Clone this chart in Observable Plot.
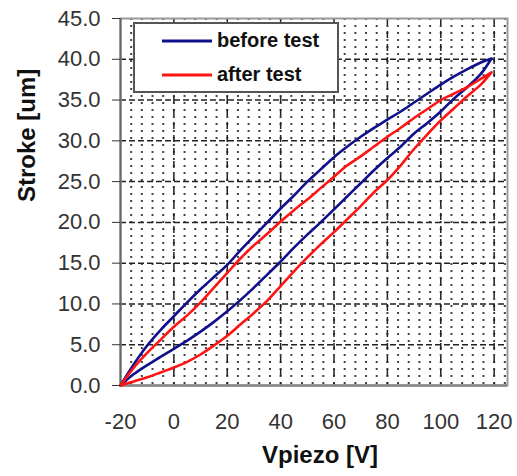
<!DOCTYPE html>
<html>
<head>
<meta charset="utf-8">
<script src="https://cdn.jsdelivr.net/npm/d3@7"></script>
<script src="https://cdn.jsdelivr.net/npm/@observablehq/plot@0.6"></script>
<style>
  html, body { margin: 0; padding: 0; background: #fff; }
  #wrap { position: relative; width: 517px; height: 476px; }
  #legend { position: absolute; left: 133px; top: 22px; }
</style>
</head>
<body>
<div id="wrap"></div>
<script>
// ---- data ----
const volts = [-20,-15,-10,-5,0,5,10,15,20,25,30,35,40,45,50,55,60,65,70,75,80,85,90,95,100,105,110,115,119];
// "before test" loop: rising branch (lower) and falling branch (upper)
const beforeRise = [0,1.4,2.5,3.5,4.5,5.5,6.6,7.8,9.1,10.5,12.0,13.6,15.2,16.9,18.5,20.0,21.6,23.2,24.8,26.4,27.9,29.3,30.9,32.2,33.6,35.2,36.6,38.2,40.1];
const beforeFall = [0,2.6,4.9,6.8,8.5,10.2,11.8,13.3,14.8,16.6,18.3,20.0,21.7,23.3,25.0,26.5,28.0,29.3,30.5,31.6,32.6,33.6,34.7,35.8,36.9,37.9,38.8,39.6,40.1];
// "after test" loop
const afterRise = [0,0.5,1.0,1.6,2.2,2.9,3.8,4.9,6.1,7.5,8.9,10.4,12.2,14.0,15.7,17.3,18.8,20.4,22.0,23.7,25.2,27.0,29.0,30.8,32.5,34.0,35.5,36.9,38.4];
const afterFall = [0,2.2,4.0,5.6,7.2,8.6,10.2,12.0,13.8,15.6,17.2,18.6,20.1,21.5,22.8,24.2,25.6,27.0,28.1,29.3,30.5,31.6,32.8,33.9,35.0,35.8,36.6,37.6,38.4];
const seriesNames = ["before test", "after test"];
const xTicks = [-20, 0, 20, 40, 60, 80, 100, 120];
const yTicks = [0, 5, 10, 15, 20, 25, 30, 35, 40, 45];
const xLabel = "Vpiezo [V]";
const yLabel = "Stroke [um]";

// ---- styles ----
const colors = ["#10108c", "#ff1414"];

function loop(rise, fall, name) {
  const up = volts.map((v, i) => ({v, s: rise[i], series: name}));
  const down = volts.map((v, i) => ({v, s: fall[i], series: name})).reverse();
  return up.concat(down);
}
const rows = loop(beforeRise, beforeFall, seriesNames[0]).concat(loop(afterRise, afterFall, seriesNames[1]));

const minorV = d3.range(-16, 125, 4);
const majorV = xTicks.filter(d => d > -20);
const majorH = yTicks.filter(d => d > 0 && d < 45);

const chart = Plot.plot({
  width: 517,
  height: 476,
  marginLeft: 120,
  marginRight: 10,
  marginTop: 18,
  marginBottom: 91,
  style: {fontFamily: "'Liberation Sans', Arial, sans-serif", background: "#fff", overflow: "visible"},
  x: {domain: [-20, 125]},
  y: {domain: [0, 45]},
  color: {domain: seriesNames, range: colors},
  marks: [
    Plot.ruleX(minorV, {stroke: "#444", strokeWidth: 2, strokeDasharray: "2,5"}),
    Plot.ruleX(majorV, {stroke: "#222", strokeWidth: 1.5, strokeDasharray: "7,6"}),
    Plot.ruleY(majorH, {stroke: "#222", strokeWidth: 1.5, strokeDasharray: "6,3"}),
    Plot.frame({stroke: "#999", strokeWidth: 2}),
    Plot.ruleX([-20], {stroke: "#666", strokeWidth: 2}),
    Plot.ruleY([0], {stroke: "#888", strokeWidth: 2.5}),
    Plot.line(rows, {x: "v", y: "s", z: "series", stroke: "series", strokeWidth: 2.6, curve: "catmull-rom"}),
    Plot.axisY(yTicks, {tickSize: 8, tickPadding: 12, tickFormat: d3.format(".1f"), fontSize: 22, fill: "#333", stroke: "#333", label: null, style: {letterSpacing: "1.2px"}}),
    Plot.axisX(xTicks, {tickSize: 0, tickPadding: 28, tickFormat: d => String(d), fontSize: 22, fill: "#333", label: null}),
    Plot.text([yLabel], {frameAnchor: "left", dx: -93, rotate: -90, fontSize: 24, fontWeight: "bold", fill: "#111"}),
    Plot.text([xLabel], {frameAnchor: "bottom", dx: 6, dy: 77, fontSize: 24, fontWeight: "bold", fill: "#111"})
  ]
});

const wrap = document.getElementById("wrap");
wrap.appendChild(chart);

// legend overlay
const lw = 206, lh = 71;
const leg = d3.select(wrap).append("svg")
  .attr("id", "legend")
  .attr("width", lw).attr("height", lh);
leg.append("rect").attr("x", 1).attr("y", 1).attr("width", lw - 2).attr("height", lh - 2)
  .attr("fill", "#fff").attr("stroke", "#555").attr("stroke-width", 2);
seriesNames.forEach((name, i) => {
  const yLine = [19, 53][i];
  const yText = [25, 59][i];
  leg.append("line").attr("x1", 29).attr("x2", 79).attr("y1", yLine).attr("y2", yLine)
    .attr("stroke", colors[i]).attr("stroke-width", 3);
  leg.append("text").attr("x", 84).attr("y", yText).text(name)
    .attr("font-family", "'Liberation Sans', Arial, sans-serif")
    .attr("font-size", 20).attr("font-weight", "bold").attr("fill", "#111");
});
</script>
</body>
</html>
